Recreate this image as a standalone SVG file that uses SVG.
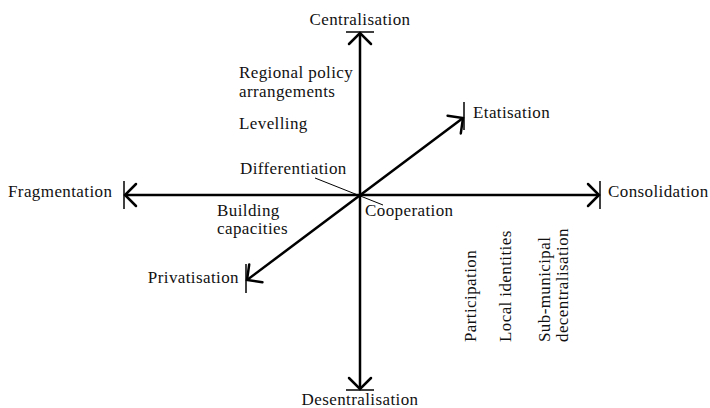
<svg xmlns="http://www.w3.org/2000/svg" width="710" height="408" viewBox="0 0 710 408">
  <style>
    text { font-family: 'Liberation Serif', 'Times New Roman', Times, serif; font-size: 17px; letter-spacing: 0.4px; fill: #111; }
    .axis { stroke: #000; stroke-width: 2.5; fill: none; }
    .bar { stroke: #000; stroke-width: 1.5; fill: none; }
    .lead { stroke: #000; stroke-width: 1; fill: none; }
  </style>
  <defs>
    <marker id="chev" markerUnits="userSpaceOnUse" viewBox="-16 -12 18 24" refX="0" refY="0" markerWidth="18" markerHeight="24" orient="auto-start-reverse" overflow="visible">
      <path d="M -11,-11 L 0,0 L -11,11" fill="none" stroke="#000" stroke-width="2.5" stroke-linecap="round" stroke-linejoin="miter"/>
    </marker>
  </defs>

  <!-- axes and end bars -->
  <g id="connectors">
    <line class="axis" x1="360" y1="33" x2="360" y2="389" marker-start="url(#chev)" marker-end="url(#chev)"/>
    <line class="axis" x1="125" y1="195" x2="599" y2="195" marker-start="url(#chev)" marker-end="url(#chev)"/>
    <line class="axis" x1="247" y1="280" x2="463" y2="118" marker-start="url(#chev)" marker-end="url(#chev)"/>
    <line class="bar" x1="346" y1="32" x2="374" y2="32"/>
    <line class="bar" x1="346" y1="390" x2="374" y2="390"/>
    <line class="bar" x1="124" y1="181" x2="124" y2="209"/>
    <line class="bar" x1="600" y1="181" x2="600" y2="209"/>
    <line class="bar" x1="464" y1="102" x2="464" y2="130"/>
    <line class="bar" x1="246" y1="264" x2="246" y2="293"/>
    <line class="lead" x1="315" y1="178" x2="383" y2="205"/>
  </g>

  <g id="centralisation"><text x="360" y="25" text-anchor="middle" font-family="Liberation Serif, serif">Centralisation</text></g>
  <g id="desentralisation"><text x="360" y="405" text-anchor="middle">Desentralisation</text></g>
  <g id="fragmentation"><text x="8" y="197">Fragmentation</text></g>
  <g id="consolidation"><text x="608" y="197">Consolidation</text></g>
  <g id="etatisation"><text x="473" y="118">Etatisation</text></g>
  <g id="privatisation"><text x="239" y="283" text-anchor="end">Privatisation</text></g>

  <g id="regional-policy">
    <text x="239" y="78">Regional policy</text>
    <text x="239" y="97">arrangements</text>
  </g>
  <g id="levelling"><text x="239" y="129">Levelling</text></g>
  <g id="differentiation"><text x="240" y="174">Differentiation</text></g>
  <g id="building-capacities">
    <text x="217" y="216">Building</text>
    <text x="217" y="234">capacities</text>
  </g>
  <g id="cooperation"><text x="365" y="216">Cooperation</text></g>

  <g id="participation"><text transform="translate(476,342) rotate(-90)">Participation</text></g>
  <g id="local-identities"><text transform="translate(511,342) rotate(-90)">Local identities</text></g>
  <g id="sub-municipal">
    <text transform="translate(550,342) rotate(-90)">Sub-municipal</text>
    <text transform="translate(568,342) rotate(-90)">decentralisation</text>
  </g>
</svg>
